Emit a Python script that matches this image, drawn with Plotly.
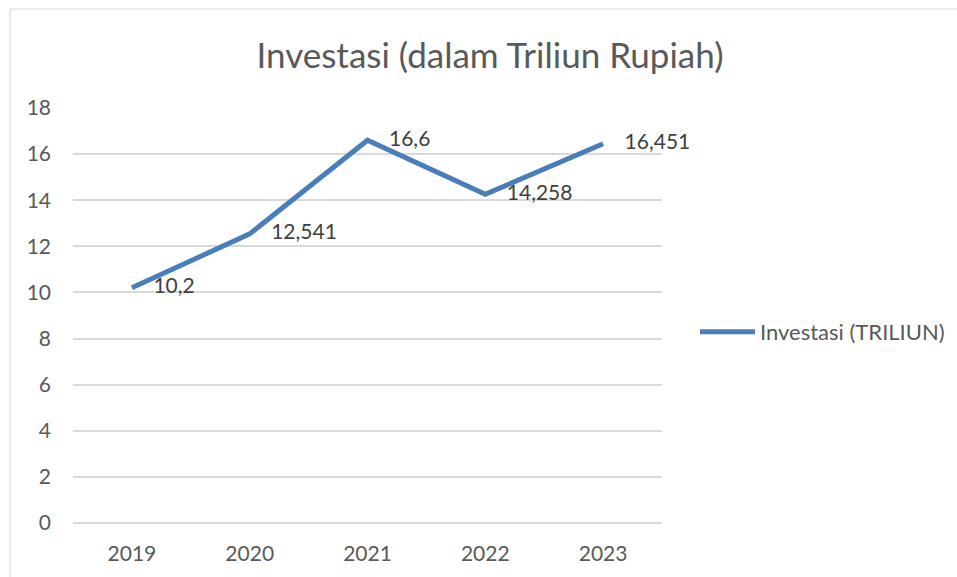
import plotly.graph_objects as go

years = ["2019", "2020", "2021", "2022", "2023"]
investasi = [10.2, 12.541, 16.6, 14.258, 16.451]
labels = ["10,2", "12,541", "16,6", "14,258", "16,451"]
y_ticks = [0, 2, 4, 6, 8, 10, 12, 14, 16, 18]

FONT = "Lato"
LINE_COLOR = "#4a7ebb"

fig = go.Figure()
fig.add_trace(go.Scatter(
    x=years, y=investasi, mode="lines",
    name="Investasi (TRILIUN)",
    line=dict(color=LINE_COLOR, width=5),
    hoverinfo="x+y",
))
fig.add_trace(go.Scatter(
    x=years, y=investasi, mode="text", text=labels,
    texttemplate="\u00a0\u00a0\u00a0\u00a0%{text}",
    textposition="middle right", cliponaxis=False,
    textfont=dict(family=FONT, size=21, color="#404040"),
    showlegend=False, hoverinfo="skip",
))

L, R, T, B = 73, 662, 108, 523
W, H = 957, 577
pw, ph = R - L, B - T

fig.update_layout(
    width=W, height=H,
    margin=dict(l=L, r=W - R, t=T, b=H - B, autoexpand=False),
    paper_bgcolor="white", plot_bgcolor="white",
    shapes=[dict(type="rect", xref="paper", yref="paper",
                 x0=(10 - L) / pw, x1=(W + 20 - L) / pw,
                 y0=(B - (H + 20)) / ph, y1=(B - 9) / ph,
                 line=dict(color="#d9d9d9", width=1), layer="below")],
    title=dict(text="Investasi (dalam Triliun Rupiah)", x=490 / W, xanchor="center",
               y=1 - 56 / H, yanchor="middle",
               font=dict(family=FONT, size=35, color="#595959")),
    font=dict(family=FONT, color="#595959"),
    showlegend=True,
    legend=dict(x=(695 - L) / pw, xanchor="left", y=(B - 332) / ph, yanchor="middle",
                font=dict(family=FONT, size=22, color="#595959"),
                itemwidth=55, bgcolor="rgba(0,0,0,0)"),
    xaxis=dict(type="category", range=[-0.5, 4.5], showgrid=False, showline=False,
               zeroline=False, ticks="", tickfont=dict(family=FONT, size=21, color="#595959"),
               ticklabelstandoff=16),
    yaxis=dict(range=[0, 18], tickvals=y_ticks, showgrid=True, gridcolor="#d9d9d9",
               gridwidth=1.5, zeroline=True, zerolinecolor="#d9d9d9", zerolinewidth=1.5,
               showline=False, ticks="", tickfont=dict(family=FONT, size=21, color="#595959"),
               ticklabelstandoff=21),
)

fig.write_html("out.html", config={"displayModeBar": False},
               post_script="document.body.style.margin='0';")
